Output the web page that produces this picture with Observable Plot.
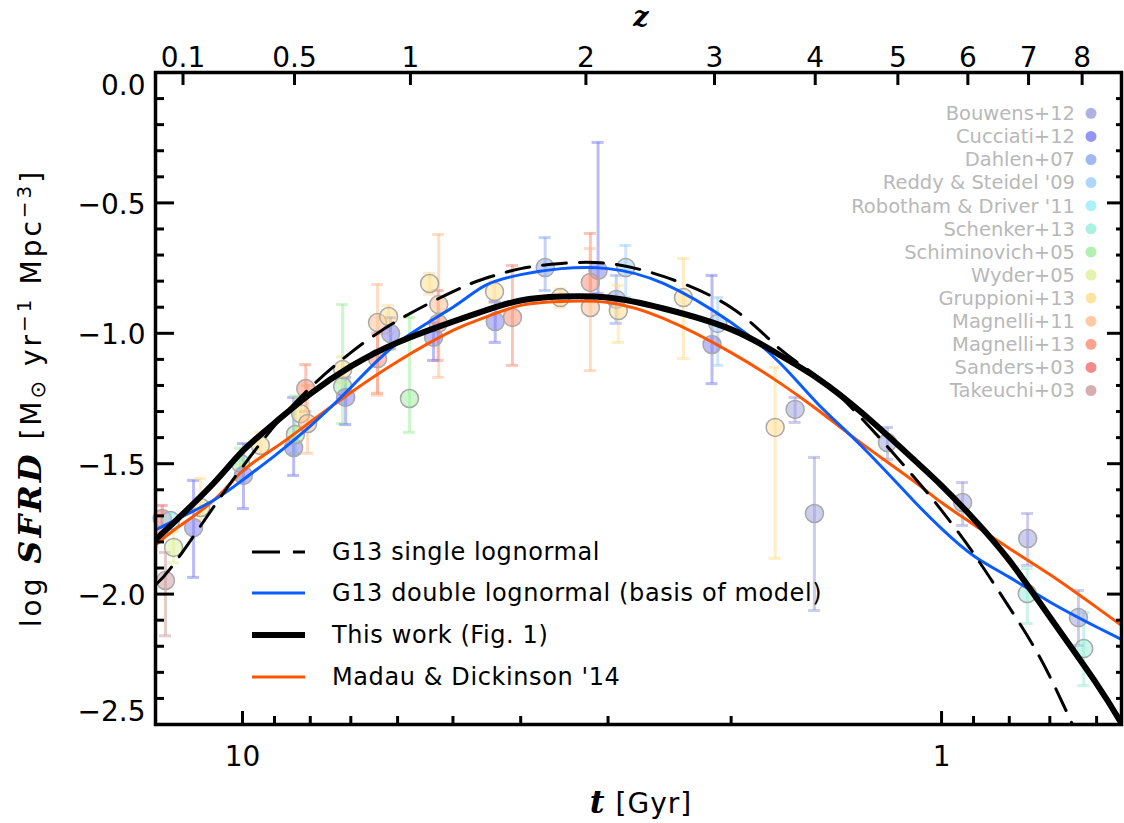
<!DOCTYPE html>
<html><head><meta charset="utf-8">
<script src="https://cdn.jsdelivr.net/npm/d3@7"></script>
<script src="https://cdn.jsdelivr.net/npm/@observablehq/plot@0.6"></script>
<style>
body{margin:0;background:#fff;}
#chart{position:relative;width:1124px;height:823px;}
</style></head><body><div id="chart"></div>
<script>
// ---- data sources (legend) ----
const sourceNames = ["Bouwens+12","Cucciati+12","Dahlen+07","Reddy & Steidel '09","Robotham & Driver '11","Schenker+13","Schiminovich+05","Wyder+05","Gruppioni+13","Magnelli+11","Magnelli+13","Sanders+03","Takeuchi+03"];
const sourceColors = ["#9c9cdc","#7a7af0","#8aa6f0","#9ccdfa","#96ecfa","#96ecd8","#9cee9c","#dcf09a","#ffdc8a","#ffbc8c","#fa8c72","#f06e6e","#cc9a9a"];

// ---- data points (t in Gyr, log SFRD, error range) ----
const pointSource = ["Takeuchi+03","Sanders+03","Robotham & Driver '11","Wyder+05","Cucciati+12","Gruppioni+13","Schiminovich+05","Cucciati+12","Gruppioni+13","Cucciati+12","Schiminovich+05","Gruppioni+13","Magnelli+11","Magnelli+13","Schiminovich+05","Gruppioni+13","Cucciati+12","Magnelli+11","Gruppioni+13","Cucciati+12","Magnelli+13","Schiminovich+05","Gruppioni+13","Magnelli+11","Magnelli+13","Cucciati+12","Gruppioni+13","Cucciati+12","Magnelli+13","Dahlen+07","Gruppioni+13","Cucciati+12","Magnelli+13","Magnelli+11","Reddy & Steidel '09","Dahlen+07","Gruppioni+13","Gruppioni+13","Cucciati+12","Reddy & Steidel '09","Gruppioni+13","Bouwens+12","Bouwens+12","Bouwens+12","Bouwens+12","Bouwens+12","Schenker+13","Bouwens+12","Schenker+13"];
const pointT  = [12.89,13.03,12.68,12.55,11.75,11.48,10.07,9.97,9.43,8.45,8.40,8.26,8.07,8.12,7.19,7.19,7.12,6.41,6.18,6.14,6.41,5.77,5.40,5.24,5.25,5.33,4.36,4.35,4.11,3.69,3.51,3.10,3.18,3.18,2.83,2.92,2.90,2.34,2.13,2.09,1.73,1.62,1.52,1.195,0.933,0.753,0.754,0.637,0.626];
const pointV  = [-1.948,-1.710,-1.718,-1.821,-1.745,-1.668,-1.499,-1.545,-1.430,-1.438,-1.388,-1.308,-1.346,-1.212,-1.204,-1.139,-1.246,-0.959,-0.936,-1.001,-1.097,-1.250,-0.809,-0.890,-0.962,-1.016,-0.840,-0.955,-0.939,-0.748,-0.863,-0.759,-0.805,-0.901,-0.748,-0.870,-0.913,-0.863,-1.043,-0.962,-1.361,-1.292,-1.691,-1.419,-1.649,-1.787,-1.998,-2.090,-2.209];
const pointLo = [-2.16,-1.76,-1.75,-1.88,-1.936,-1.718,-1.56,-1.672,-1.48,-1.545,-1.46,-1.36,-1.46,-1.30,-1.346,-1.19,-1.35,-1.238,-1.00,-1.06,-1.23,-1.380,-0.85,-1.169,-1.104,-1.104,-0.88,-1.035,-1.123,-0.836,-0.90,-0.847,-0.874,-1.143,-0.863,-0.962,-1.035,-1.097,-1.193,-1.123,-1.863,-1.342,-2.063,-1.484,-1.737,-1.890,-2.113,-2.197,-2.351];
const pointHi = [-1.84,-1.66,-1.69,-1.76,-1.564,-1.557,-1.44,-1.423,-1.38,-1.246,-1.24,-1.25,-1.20,-1.12,-0.890,-1.09,-1.17,-0.813,-0.893,-0.94,-1.00,-0.939,-0.77,-0.621,-0.836,-0.96,-0.80,-0.88,-0.740,-0.633,-0.83,-0.268,-0.617,-0.675,-0.663,-0.778,-0.817,-0.713,-0.778,-0.863,-1.131,-1.246,-1.476,-1.361,-1.572,-1.691,-1.902,-1.986,-2.071];

// ---- model curves, read at these cosmic times (Gyr) ----
const tNodes = [13.32,12.5,11,10,9,8,7,6,5,4.5,4,3.5,3,2.5,2,1.7,1.5,1.3,1.1,1.0,0.9,0.8,0.7,0.6,0.553];
const g13Single = [-1.965,-1.880,-1.666,-1.512,-1.355,-1.208,-1.074,-0.951,-0.840,-0.790,-0.752,-0.732,-0.732,-0.782,-0.901,-1.062,-1.169,-1.327,-1.545,-1.679,-1.844,-2.051,-2.316,-2.70,-2.85];
const g13Double = [-1.754,-1.717,-1.640,-1.563,-1.470,-1.356,-1.208,-1.037,-0.900,-0.817,-0.775,-0.752,-0.752,-0.809,-0.959,-1.116,-1.273,-1.434,-1.638,-1.749,-1.853,-1.935,-2.030,-2.126,-2.174];
const thisWork  = [-1.791,-1.722,-1.575,-1.452,-1.344,-1.232,-1.127,-1.035,-0.955,-0.913,-0.874,-0.859,-0.863,-0.905,-0.985,-1.085,-1.175,-1.305,-1.480,-1.584,-1.711,-1.871,-2.088,-2.344,-2.495];
const md14      = [-1.812,-1.752,-1.641,-1.528,-1.440,-1.340,-1.227,-1.108,-0.989,-0.939,-0.893,-0.878,-0.882,-0.943,-1.074,-1.192,-1.296,-1.423,-1.564,-1.649,-1.733,-1.825,-1.925,-2.051,-2.120];

// ---- axis tick labels ----
const yMajor = [0,-0.5,-1,-1.5,-2,-2.5];
const yMinor = [-0.1,-0.2,-0.3,-0.4,-0.6,-0.7,-0.8,-0.9,-1.1,-1.2,-1.3,-1.4,-1.6,-1.7,-1.8,-1.9,-2.1,-2.2,-2.3,-2.4];
const tMajor = [10,1];
const tMinor = [9,8,7,6,5,4,3,2,0.9,0.8,0.7,0.6];
const zTicks = [0.1,0.5,1,2,3,4,5,6,7,8];

// flat LCDM (H0=70, Om=0.3) age at redshift z, for the top axis
const hubbleGyr = 977.8/70, Om = 0.3, OL = 0.7;
const tOfZ = z => (2/3)*hubbleGyr/Math.sqrt(OL)*Math.asinh(Math.sqrt(OL/Om)*Math.pow(1+z,-1.5));
const zTickT = zTicks.map(tOfZ);

const rows = pointSource.map((s,i)=>({source:s,t:pointT[i],v:pointV[i],lo:pointLo[i],hi:pointHi[i]}));
const curve = vals => tNodes.map((t,i)=>({t, v: vals[i]}));

const fmt = d3.format(".1f");
const tickFont = "DejaVu Sans";
const errStyle = {stroke:"source", strokeWidth:3, strokeOpacity:0.5};

const chart = Plot.plot({
  width:1124, height:823,
  marginLeft:155, marginRight:3, marginTop:72, marginBottom:99,
  style:{fontFamily:tickFont, background:"white", overflow:"visible", color:"black"},
  x:{type:"log", domain:[13.32,0.5528]},
  y:{domain:[-2.5,0]},
  color:{domain:sourceNames, range:sourceColors},
  marks:[
    Plot.ruleX(rows,{x:"t", y1:"lo", y2:"hi", ...errStyle}),
    Plot.ruleY(rows,{y:"lo", x1:"t", x2:"t", insetLeft:-6, insetRight:-6, ...errStyle}),
    Plot.ruleY(rows,{y:"hi", x1:"t", x2:"t", insetLeft:-6, insetRight:-6, ...errStyle}),
    Plot.dot(rows,{x:"t", y:"v", r:9, fill:"source", fillOpacity:0.5, stroke:"#a8a8a8", strokeWidth:1.5}),
    Plot.line(curve(md14),{x:"t", y:"v", curve:"natural", stroke:"#ff5500", strokeWidth:3, clip:true}),
    Plot.line(curve(g13Double),{x:"t", y:"v", curve:"natural", stroke:"#0a5cff", strokeWidth:3, clip:true}),
    Plot.line(curve(thisWork),{x:"t", y:"v", curve:"natural", stroke:"black", strokeWidth:6, clip:true}),
    Plot.line(curve(g13Single),{x:"t", y:"v", curve:"natural", stroke:"black", strokeWidth:3, strokeDasharray:"24,13", clip:true}),
    // left axis
    Plot.axisY({anchor:"left", ticks:yMajor, tickSize:-19, strokeWidth:3, tickFormat:()=>"", label:null}),
    Plot.axisY({anchor:"left", ticks:yMinor, tickSize:-9, strokeWidth:3, tickFormat:()=>"", label:null}),
    Plot.axisY({anchor:"left", ticks:[-0.5,-1,-1.5,-2], tickSize:0, tickPadding:10, tickFormat:fmt, fontSize:28, dy:2, label:null}),
    Plot.axisY({anchor:"left", ticks:[0], tickSize:0, tickPadding:10, tickFormat:fmt, fontSize:28, dy:14, label:null}),
    Plot.axisY({anchor:"left", ticks:[-2.5], tickSize:0, tickPadding:10, tickFormat:fmt, fontSize:28, dy:-12, label:null}),
    // right axis
    Plot.axisY({anchor:"right", ticks:yMajor, tickSize:-15, strokeWidth:3, tickFormat:()=>"", label:null}),
    Plot.axisY({anchor:"right", ticks:yMinor, tickSize:-6, strokeWidth:3, tickFormat:()=>"", label:null}),
    // bottom axis (t)
    Plot.axisX({anchor:"bottom", ticks:tMajor, tickSize:-13, strokeWidth:3, tickFormat:()=>"", label:null}),
    Plot.axisX({anchor:"bottom", ticks:tMinor, tickSize:-8, strokeWidth:3, tickFormat:()=>"", label:null}),
    Plot.axisX({anchor:"bottom", ticks:tMajor, tickSize:0, tickPadding:22, tickFormat:d=>String(d), fontSize:28, label:null}),
    // top axis (z)
    Plot.axisX({anchor:"top", ticks:zTickT, tickSize:-12, strokeWidth:3, tickFormat:()=>"", label:null}),
    Plot.text(zTicks,{x:tOfZ, text:d=>String(d), frameAnchor:"top", dy:-25, fontSize:28}),
    Plot.frame({strokeWidth:3.5})
  ]
});
document.getElementById("chart").appendChild(chart);

// ---- titles and legends (text) ----
const svg = d3.select(chart);
const serifBI = "DejaVu Serif";
// top z label
svg.append("text").attr("x",641).attr("y",26).attr("text-anchor","middle")
  .attr("font-family",serifBI).attr("font-weight","bold").attr("font-style","italic").attr("font-size",27).text("z");
// x title
const xt = svg.append("text").attr("x",641).attr("y",813).attr("text-anchor","middle").attr("font-size",28).attr("font-family",tickFont).attr("letter-spacing","1");
xt.append("tspan").attr("font-family",serifBI).attr("font-weight","bold").attr("font-style","italic").attr("font-size",32).text("t");
xt.append("tspan").text(" [Gyr]");
// y title
const yt = svg.append("text").attr("transform","translate(41,398) rotate(-90)").attr("text-anchor","middle")
  .attr("font-size",28).attr("font-family",tickFont).attr("letter-spacing","3");
yt.append("tspan").text("log ");
yt.append("tspan").attr("font-family",serifBI).attr("font-weight","bold").attr("font-style","italic").attr("font-size",32).text("SFRD");
yt.append("tspan").text(" [M");
yt.append("tspan").attr("font-size",21).attr("dy",4).text("⊙");
yt.append("tspan").attr("dy",-4).text(" yr");
yt.append("tspan").attr("font-size",20).attr("dy",-10).text("−1");
yt.append("tspan").attr("dy",10).text(" Mpc");
yt.append("tspan").attr("font-size",20).attr("dy",-10).text("−3");
yt.append("tspan").attr("dy",10).text("]");

// line legend
const lineLegend = [
  {label:"G13 single lognormal", stroke:"black", w:3, dash:"28,13"},
  {label:"G13 double lognormal (basis of model)", stroke:"#0a5cff", w:3, dash:null},
  {label:"This work (Fig. 1)", stroke:"black", w:6, dash:null},
  {label:"Madau & Dickinson '14", stroke:"#ff5500", w:3, dash:null}
];
const lgY = [552, 593, 635, 677];
lineLegend.forEach((d,i)=>{
  svg.append("line").attr("x1",252).attr("x2",305).attr("y1",lgY[i]).attr("y2",lgY[i])
    .attr("stroke",d.stroke).attr("stroke-width",d.w).attr("stroke-dasharray",d.dash);
  svg.append("text").attr("x",332).attr("y",lgY[i]).attr("dy","0.35em").attr("text-anchor","start").attr("font-size",24)
    .attr("font-family",tickFont).attr("letter-spacing","0.6").text(d.label);
});
// data-source legend
sourceNames.forEach((name,i)=>{
  const y = 113.3 + i*23.1;
  svg.append("text").attr("x",1075).attr("y",y).attr("dy","0.35em").attr("text-anchor","end")
    .attr("font-size",19.5).attr("font-family",tickFont).attr("fill","#b8b8b8").text(name);
  svg.append("circle").attr("cx",1091).attr("cy",y).attr("r",5.5).attr("fill",sourceColors[i]).attr("fill-opacity",0.8);
});
</script></body></html>
